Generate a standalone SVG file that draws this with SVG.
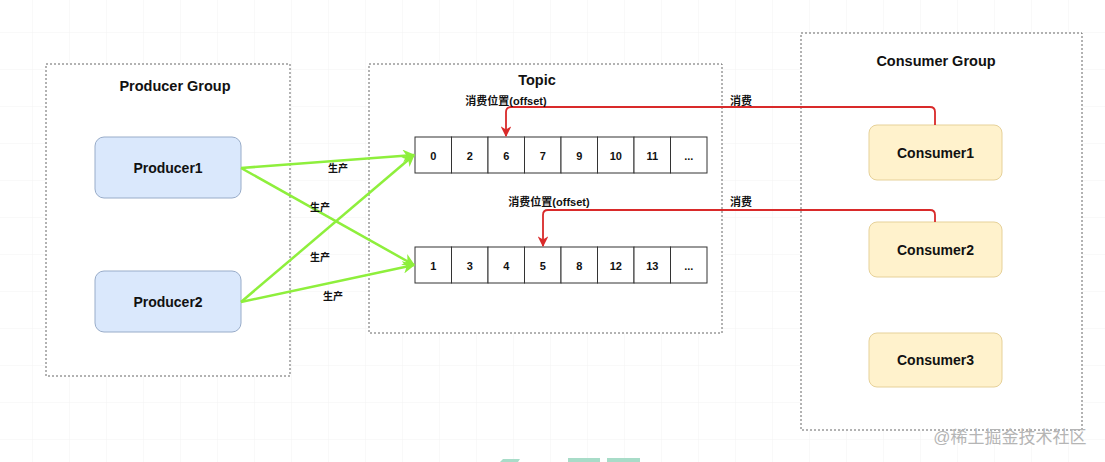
<svg xmlns="http://www.w3.org/2000/svg" width="1105" height="462" viewBox="0 0 1105 462">
<defs>
<pattern id="grid" width="37" height="37" patternUnits="userSpaceOnUse" x="-4" y="-4">
<path d="M37 0V37H0" fill="none" stroke="#f3f3f3" stroke-width="1"/>
</pattern>
<marker id="ag" viewBox="0 0 10 10" refX="9" refY="5" markerWidth="5" markerHeight="5" orient="auto" markerUnits="strokeWidth">
<path d="M0 0L10 5L0 10L3 5Z" fill="#8eef3c"/>
</marker>
<marker id="ar" viewBox="0 0 10 10" refX="9" refY="5" markerWidth="6" markerHeight="6" orient="auto" markerUnits="strokeWidth">
<path d="M0 0L10 5L0 10L3 5Z" fill="#d92a2a"/>
</marker>
</defs>
<style>
text{font-family:"Liberation Sans","Noto Sans CJK SC",Arial,sans-serif;font-weight:bold;fill:#111;text-anchor:middle;dominant-baseline:central}
.grp{fill:#fff;stroke:#666;stroke-width:1;stroke-dasharray:2 2}
.title{font-size:14.5px}
.prod{fill:#dae8fc;stroke:#98acc9;stroke-width:1}
.cons{fill:#fff2cc;stroke:#e6d199;stroke-width:1}
.node{font-size:14px}
.cell{fill:#fff;stroke:#333;stroke-width:1}
.num{font-size:11px}
.lbl{font-size:11px}
.lblb{font-size:10px}
.g{fill:none;stroke:#8eef3c;stroke-width:2.5;marker-end:url(#ag)}
.r{fill:none;stroke:#d92a2a;stroke-width:1.8;marker-end:url(#ar)}
</style>
<rect width="1105" height="462" fill="#fff"/>
<rect width="1105" height="462" fill="url(#grid)"/>

<g id="producer-group">
<rect class="grp" x="46" y="64" width="244" height="312"/>
<text class="title" x="175" y="86">Producer Group</text>
</g>
<g id="topic">
<rect class="grp" x="369" y="64" width="353" height="269"/>
<text class="title" x="537" y="80">Topic</text>
</g>
<g id="consumer-group">
<rect class="grp" x="801" y="33" width="281" height="397"/>
<text class="title" x="936" y="61">Consumer Group</text>
</g>

<g id="producer1">
<rect class="prod" x="95" y="137" width="146" height="61" rx="9"/>
<text class="node" x="168" y="168">Producer1</text>
</g>
<g id="producer2">
<rect class="prod" x="95" y="271" width="146" height="61" rx="9"/>
<text class="node" x="168" y="302">Producer2</text>
</g>

<g id="queue1">
<rect class="cell" x="415" y="137" width="36.5" height="36"/>
<rect class="cell" x="451.5" y="137" width="36.5" height="36"/>
<rect class="cell" x="488" y="137" width="36.5" height="36"/>
<rect class="cell" x="524.5" y="137" width="36.5" height="36"/>
<rect class="cell" x="561" y="137" width="36.5" height="36"/>
<rect class="cell" x="597.5" y="137" width="36.5" height="36"/>
<rect class="cell" x="634" y="137" width="36.5" height="36"/>
<rect class="cell" x="670.5" y="137" width="36.5" height="36"/>
<text class="num" x="433.25" y="156">0</text>
<text class="num" x="469.75" y="156">2</text>
<text class="num" x="506.25" y="156">6</text>
<text class="num" x="542.75" y="156">7</text>
<text class="num" x="579.25" y="156">9</text>
<text class="num" x="615.75" y="156">10</text>
<text class="num" x="652.25" y="156">11</text>
<text class="num" x="688.75" y="156">...</text>
</g>
<g id="queue2">
<rect class="cell" x="415" y="247" width="36.5" height="36"/>
<rect class="cell" x="451.5" y="247" width="36.5" height="36"/>
<rect class="cell" x="488" y="247" width="36.5" height="36"/>
<rect class="cell" x="524.5" y="247" width="36.5" height="36"/>
<rect class="cell" x="561" y="247" width="36.5" height="36"/>
<rect class="cell" x="597.5" y="247" width="36.5" height="36"/>
<rect class="cell" x="634" y="247" width="36.5" height="36"/>
<rect class="cell" x="670.5" y="247" width="36.5" height="36"/>
<text class="num" x="433.25" y="266">1</text>
<text class="num" x="469.75" y="266">3</text>
<text class="num" x="506.25" y="266">4</text>
<text class="num" x="542.75" y="266">5</text>
<text class="num" x="579.25" y="266">8</text>
<text class="num" x="615.75" y="266">12</text>
<text class="num" x="652.25" y="266">13</text>
<text class="num" x="688.75" y="266">...</text>
</g>

<g id="consumer1">
<rect class="cons" x="869" y="125" width="133" height="55" rx="8"/>
<text class="node" x="935.5" y="153">Consumer1</text>
</g>
<g id="consumer2">
<rect class="cons" x="869" y="222" width="133" height="55" rx="8"/>
<text class="node" x="935.5" y="250">Consumer2</text>
</g>
<g id="consumer3">
<rect class="cons" x="869" y="333" width="133" height="54" rx="8"/>
<text class="node" x="935.5" y="360">Consumer3</text>
</g>

<g id="connectors">
<path class="g" d="M241 168L414 155"/>
<path class="g" d="M241 168L414 265"/>
<path class="g" d="M241 302L414 155"/>
<path class="g" d="M241 302L414 265"/>
<path class="r" d="M935 125V112Q935 107 930 107H511Q506 107 506 112V136"/>
<path class="r" d="M935 222V215Q935 210 930 210H548Q543 210 543 215V246"/>
<text class="lblb" x="338" y="168">生产</text>
<text class="lblb" x="320" y="207">生产</text>
<text class="lblb" x="320" y="257">生产</text>
<text class="lblb" x="333" y="296">生产</text>
<text class="lbl" x="506" y="101">消费位置(offset)</text>
<text class="lbl" x="549" y="202">消费位置(offset)</text>
<text class="lbl" x="741" y="101">消费</text>
<text class="lbl" x="741" y="202">消费</text>
</g>

<text x="1010" y="437" style="font-size:17px;font-weight:normal;fill:#b5b5b5">@稀土掘金技术社区</text>
<g fill="#a8dcc8">
<path d="M503 459H520L518 462H500Z"/>
<rect x="568" y="458" width="32" height="4"/>
<rect x="607" y="458" width="33" height="4"/>
</g>
</svg>
